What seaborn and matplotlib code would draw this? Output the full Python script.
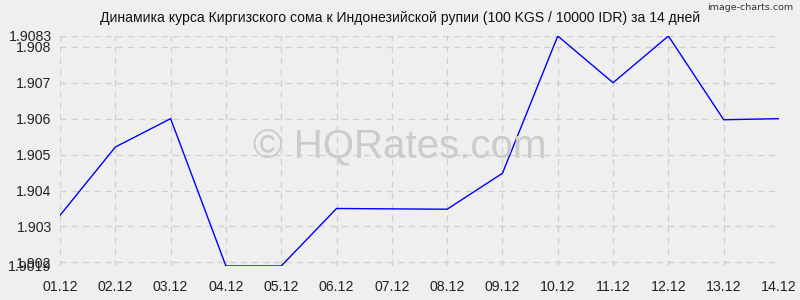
import matplotlib
matplotlib.use("Agg")
import matplotlib.pyplot as plt
import seaborn as sns
import pandas as pd

dates = ["01.12", "02.12", "03.12", "04.12", "05.12", "06.12", "07.12",
         "08.12", "09.12", "10.12", "11.12", "12.12", "13.12", "14.12"]
rates = [1.90331, 1.90521, 1.9060, 1.9019, 1.9019, 1.90350, 1.90349,
         1.90348, 1.90448, 1.9083, 1.9070, 1.9083, 1.90597, 1.9060]
ytick_values = [1.9019, 1.902, 1.903, 1.904, 1.905, 1.906, 1.907, 1.908, 1.9083]
ytick_labels = ["1.9019", "1.902", "1.903", "1.904", "1.905", "1.906", "1.907", "1.908", "1.9083"]
title = "Динамика курса Киргизского сома к Индонезийской рупии (100 KGS / 10000 IDR) за 14 дней"

sns.set_theme(style="white")
plt.rcParams["font.family"] = ["Liberation Sans", "DejaVu Sans"]

df = pd.DataFrame({"x": range(len(dates)), "rate": rates})

fig = plt.figure(figsize=(8, 3), dpi=100, facecolor="#efefef")
ax = fig.add_axes([60/800, 1 - 266/300, (779-60)/800, (266-36)/300])
ax.set_facecolor("#efefef")

sns.lineplot(data=df, x="x", y="rate", ax=ax, color="#0000ff", linewidth=1.0)

ax.set_xlim(0, len(dates) - 1)
ax.set_ylim(1.9019, 1.9083)
ax.set_xticks(range(len(dates)))
ax.set_xticklabels(dates)
ax.set_yticks(ytick_values)
ax.set_yticklabels(ytick_labels)
ax.tick_params(axis="both", labelsize=10.2, colors="#222222", length=4, width=0.8,
               direction="out", color="#bbbbbb", pad=2)
ax.tick_params(axis="x", pad=10, length=0)
for s in ax.spines.values():
    s.set_visible(False)
ax.grid(True, color="#cfcfcf", linestyle=(0, (5, 4)), linewidth=0.9)
ax.set_xlabel("")
ax.set_ylabel("")

fig.text(0.5, 1 - 18/300, title, ha="center", va="center", fontsize=10.1, color="#111111")
fig.text(793/800, 1 - 7/300, "image-charts.com", ha="right", va="center", fontsize=6.8,
         color="#333333", family=["DejaVu Sans", "Liberation Sans"])
fig.text(0.5, 1 - 147/300, "© HQRates.com", ha="center", va="center",
         fontsize=29, color="#cbcbcb", zorder=0)

fig.savefig("out.png", dpi=100, facecolor=fig.get_facecolor())
